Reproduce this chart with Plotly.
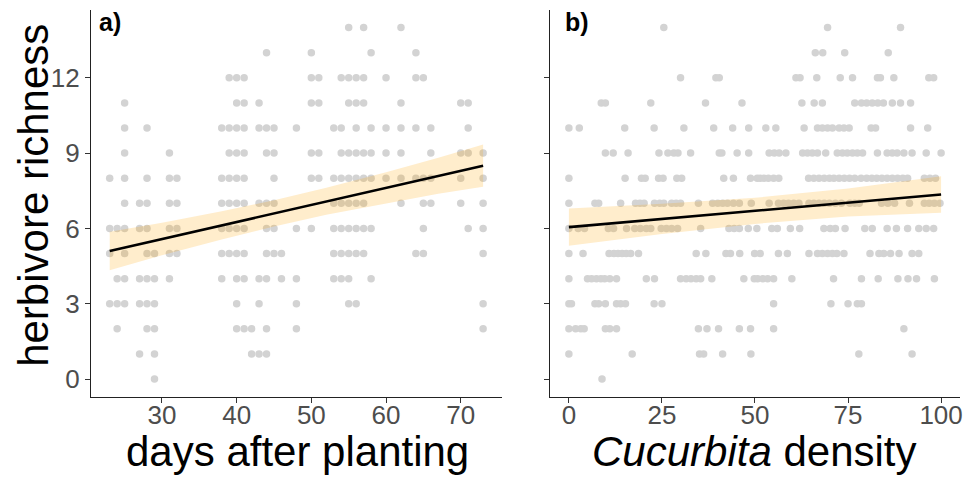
import plotly.graph_objects as go

# ---------------- data: panel a) days after planting ----------------
days_r0 = [29]
days_r1 = [27, 29, 42, 43, 44]
days_r2 = [24, 28, 29, 40, 41, 42, 44, 48, 73]
days_r3 = [23, 24, 25, 27, 28, 29, 40, 43, 48, 55, 56, 73]
days_r4 = [24, 25, 27, 28, 29, 31, 38, 40, 41, 43, 44, 46, 48, 53, 54, 55, 58]
days_r5 = [23, 25, 28, 29, 31, 32, 38, 39, 40, 41, 44, 45, 46, 53, 54, 55, 56, 57, 64, 65, 73]
days_r6 = [23, 24, 25, 27, 28, 31, 32, 38, 39, 40, 41, 44, 45, 48, 50, 53, 54, 55, 56, 57, 58, 65, 71, 73]
days_r7 = [25, 27, 28, 31, 32, 38, 39, 40, 41, 43, 44, 45, 53, 54, 55, 56, 57, 62, 65, 66, 70, 73]
days_r8 = [23, 25, 28, 31, 32, 38, 39, 40, 41, 45, 50, 51, 53, 54, 55, 56, 57, 58, 60, 62, 64, 65, 66, 70, 73]
days_r9 = [25, 31, 39, 40, 41, 44, 45, 50, 51, 54, 55, 56, 57, 58, 60, 62, 66, 70, 71, 73]
days_r10 = [25, 28, 38, 39, 40, 41, 43, 44, 45, 48, 53, 54, 56, 58, 60, 62, 64, 66, 71]
days_r11 = [25, 40, 41, 43, 50, 51, 55, 56, 57, 62, 70, 71]
days_r12 = [39, 40, 41, 50, 51, 54, 55, 56, 57, 60, 64, 65]
days_r13 = [44, 50, 58, 64]
days_r14 = [55, 57, 62]

days_fit = [23, 30, 38, 45, 52, 60, 67, 73]
days_fit_y = [5.10, 5.58, 6.12, 6.60, 7.08, 7.62, 8.10, 8.50]
days_fit_lo = [4.33, 4.93, 5.56, 6.08, 6.54, 7.00, 7.38, 7.66]
days_fit_hi = [5.87, 6.23, 6.68, 7.12, 7.62, 8.24, 8.82, 9.34]

# ---------------- data: panel b) Cucurbita density ----------------
dens_r0 = [8.9]
dens_r1 = [0, 17.0, 35.1, 36.2, 41.3, 48.9, 77.9, 92.2]
dens_r2 = [0, 1.8, 3.2, 4.1, 9.8, 11.0, 12.8, 34.8, 37.1, 40.2, 45.8, 48.8, 55.0, 90.0]
dens_r3 = [0, 0.7, 7.0, 8.0, 9.8, 12.8, 13.9, 15.2, 22.9, 25.0, 55.0, 70.4, 75.0, 77.5, 78.6]
dens_r4 = [0, 5.0, 6.1, 7.4, 8.6, 9.6, 11.0, 12.8, 20.8, 23.0, 30.0, 31.5, 32.8, 34.2, 35.4,
           38.4, 47.0, 49.8, 50.7, 52.1, 53.4, 55.0, 59.9, 71.1, 78.6, 83.1, 88.4, 91.1, 93.4, 98.2]
dens_r5 = [0, 3.8, 10.8, 12.1, 13.2, 14.3, 15.4, 16.6, 18.7, 34.2, 36.8, 42.2, 43.4, 45.9, 49.9,
           51.4, 56.3, 58.7, 64.5, 66.8, 68.1, 69.5, 70.8, 72.0, 73.9, 80.9, 83.3, 84.6, 86.4,
           88.7, 92.2, 94.0]
dens_r6 = [0, 2.5, 4.2, 10.6, 12.0, 15.5, 17.7, 19.2, 20.8, 22.0, 24.8, 26.2, 27.6, 29.2, 35.4,
           43.0, 44.4, 45.8, 48.2, 50.5, 54.5, 56.0, 59.5, 62.0, 68.5, 70.2, 71.6, 74.2, 79.5,
           81.5, 85.5, 88.0, 91.0, 94.0, 96.0, 98.0]
dens_r7 = [0, 7.0, 8.0, 13.9, 17.9, 19.1, 20.2, 23.0, 24.4, 25.5, 27.6, 28.8, 30.0, 34.8, 38.6,
           40.0, 41.3, 42.6, 44.2, 45.8, 49.0, 53.8, 56.3, 57.7, 59.0, 60.4, 61.8, 64.5, 65.8,
           67.2, 68.6, 70.0, 71.6, 73.2, 75.5, 76.8, 78.0, 84.0, 85.7, 87.5, 91.5, 95.5, 96.8,
           98.2, 99.7]
dens_r8 = [0, 15.1, 19.5, 20.5, 24.1, 25.3, 29.0, 30.3, 41.6, 44.2, 48.8, 50.6, 51.4, 52.4, 53.6,
           55.0, 56.4, 64.4, 65.8, 67.2, 68.6, 70.0, 71.2, 72.6, 74.0, 75.4, 76.8, 78.5, 80.0,
           81.4, 82.7, 84.1, 85.5, 86.9, 88.3, 89.7, 91.0, 95.5, 97.0, 98.5]
dens_r9 = [9.8, 11.9, 15.9, 24.2, 26.6, 28.2, 29.3, 32.7, 40.4, 41.1, 45.2, 48.3, 53.8, 55.2,
           56.5, 58.3, 62.8, 64.1, 65.4, 66.8, 69.0, 72.1, 73.5, 74.8, 76.2, 77.5, 78.9, 82.9,
           85.5, 86.9, 88.2, 90.0, 92.2, 96.0, 100.0]
dens_r10 = [0, 2.8, 15.0, 22.9, 30.9, 38.9, 44.0, 48.3, 52.9, 55.6, 63.2, 66.8, 68.1, 69.5,
            70.8, 72.6, 73.9, 75.3, 81.2, 82.4, 91.8, 96.4]
dens_r11 = [8.7, 9.8, 22.0, 36.7, 46.5, 62.6, 65.9, 68.1, 76.8, 78.6, 80.0, 81.5, 83.0, 84.5,
            86.9, 89.1, 91.8]
dens_r12 = [30.0, 39.5, 40.4, 61.0, 62.1, 66.6, 72.9, 76.2, 82.9, 83.7, 87.3, 96.7, 98.0]
dens_r13 = [66.2, 68.2, 74.1, 85.8]
dens_r14 = [25.5, 69.5, 89.1]

dens_fit = [0, 25, 50, 75, 100]
dens_fit_y = [6.05, 6.38, 6.70, 7.03, 7.35]
dens_fit_lo = [5.31, 5.78, 6.18, 6.47, 6.62]
dens_fit_hi = [6.79, 6.98, 7.22, 7.59, 8.08]

y_ticks = [0, 3, 6, 9, 12]
days_ticks = [30, 40, 50, 60, 70]
dens_ticks = [0, 25, 50, 75, 100]

days_rows = [days_r0, days_r1, days_r2, days_r3, days_r4, days_r5, days_r6, days_r7,
             days_r8, days_r9, days_r10, days_r11, days_r12, days_r13, days_r14]
dens_rows = [dens_r0, dens_r1, dens_r2, dens_r3, dens_r4, dens_r5, dens_r6, dens_r7,
             dens_r8, dens_r9, dens_r10, dens_r11, dens_r12, dens_r13, dens_r14]

ax_days, ay_days = [], []
for rich, row in enumerate(days_rows):
    ax_days += row
    ay_days += [rich] * len(row)
bx_dens, by_dens = [], []
for rich, row in enumerate(dens_rows):
    bx_dens += row
    by_dens += [rich] * len(row)

POINT = "#D3D3D3"
RIBBON = "rgba(255,165,0,0.2)"
FONT = "Liberation Sans, Arial, sans-serif"

fig = go.Figure()
for xs, ys, fx, fy, lo, hi, xa, ya in [
    (ax_days, ay_days, days_fit, days_fit_y, days_fit_lo, days_fit_hi, "x", "y"),
    (bx_dens, by_dens, dens_fit, dens_fit_y, dens_fit_lo, dens_fit_hi, "x2", "y2"),
]:
    fig.add_trace(go.Scatter(x=xs, y=ys, mode="markers", xaxis=xa, yaxis=ya,
                             marker=dict(size=7.5, color=POINT, line=dict(width=0)),
                             hoverinfo="skip", showlegend=False))
    fig.add_trace(go.Scatter(x=fx, y=lo, mode="lines", xaxis=xa, yaxis=ya,
                             line=dict(width=0, color=RIBBON), showlegend=False,
                             hoverinfo="skip"))
    fig.add_trace(go.Scatter(x=fx, y=hi, mode="lines", xaxis=xa, yaxis=ya, fill="tonexty",
                             fillcolor=RIBBON, line=dict(width=0, color=RIBBON),
                             showlegend=False, hoverinfo="skip"))
    fig.add_trace(go.Scatter(x=[fx[0], fx[-1]], y=[fy[0], fy[-1]], mode="lines",
                             xaxis=xa, yaxis=ya, line=dict(width=2.6, color="black"),
                             showlegend=False, hoverinfo="skip"))

axis_common = dict(showline=True, linecolor="#222222", linewidth=1.1, ticks="outside",
                   ticklen=5, tickwidth=1.1, tickcolor="#333333", showgrid=False,
                   zeroline=False, tickfont=dict(family=FONT, size=26, color="#4D4D4D"))
x_extra = dict(ticklabelstandoff=-10)

# The page body adds an 8 px offset; figure pixels = screen pixels - 8.
W, H = 965, 469
fig.update_layout(
    width=W, height=H,
    margin=dict(l=0, r=0, t=0, b=0),
    paper_bgcolor="white", plot_bgcolor="white",
    font=dict(family=FONT),
    xaxis=dict(domain=[0.0863, 0.5133], range=[20.5, 75.5], tickvals=days_ticks,
               anchor="y", **axis_common, **x_extra),
    yaxis=dict(domain=[0.1714, 0.9957], range=[-0.7, 14.7], tickvals=y_ticks,
               anchor="x", **axis_common),
    xaxis2=dict(domain=[0.5637, 0.9893], range=[-5, 105], tickvals=dens_ticks,
                anchor="y2", **axis_common, **x_extra),
    yaxis2=dict(domain=[0.1714, 0.9957], range=[-0.7, 14.7], tickvals=y_ticks,
                anchor="x2", showticklabels=False,
                **{k: v for k, v in axis_common.items() if k != "tickfont"}),
    annotations=[
        dict(text="days after planting", x=0.3005, y=0.055, xref="paper", yref="paper",
             showarrow=False, xanchor="center", yanchor="middle",
             font=dict(family=FONT, size=42, color="black")),
        dict(text="<i>Cucurbita</i> density", x=0.7762, y=0.055, xref="paper", yref="paper",
             showarrow=False, xanchor="center", yanchor="middle",
             font=dict(family=FONT, size=42, color="black")),
        dict(text="herbivore richness", x=0.0262, y=0.5999, xref="paper", yref="paper",
             showarrow=False, xanchor="center", yanchor="middle", textangle=-90,
             font=dict(family=FONT, size=42, color="black")),
        dict(text="<b>a)</b>", x=0.0922, y=0.9702, xref="paper", yref="paper",
             showarrow=False, xanchor="left", yanchor="middle",
             font=dict(family=FONT, size=25, color="black")),
        dict(text="<b>b)</b>", x=0.5772, y=0.9702, xref="paper", yref="paper",
             showarrow=False, xanchor="left", yanchor="middle",
             font=dict(family=FONT, size=25, color="black")),
    ],
)

fig.write_html("out.html")
